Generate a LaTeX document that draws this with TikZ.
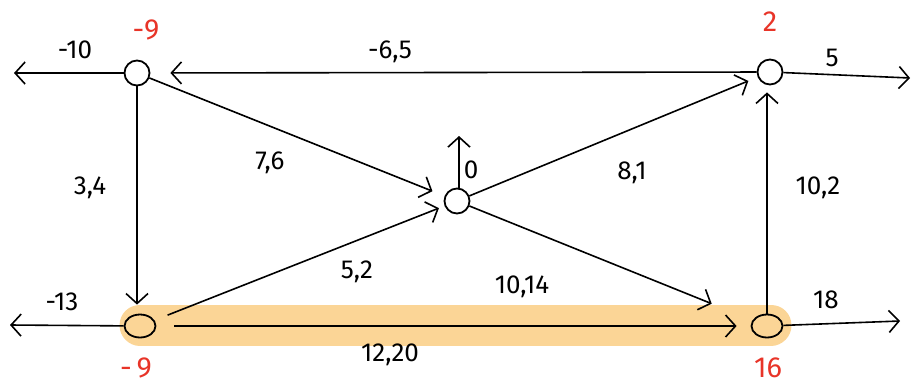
\documentclass[tikz,border=0pt]{standalone}
\usepackage{fontspec}
\setmainfont{Fira Sans}
\usetikzlibrary{arrows.meta,shapes.geometric}
\definecolor{hl}{RGB}{251,213,150}
\definecolor{redlab}{RGB}{232,52,40}
\tikzset{
  vert/.style={circle,draw,line width=1.8pt,minimum size=25pt,inner sep=0pt},
  vertb/.style={ellipse,draw,line width=1.8pt,minimum width=31pt,minimum height=23pt,inner sep=0pt},
  edge/.style={line width=1.6pt,-{Straight Barb[length=10pt,width=22pt,line width=1.6pt]}},
  lab/.style={font=\fontsize{26}{26}\selectfont},
  rlab/.style={font=\fontsize{29}{29}\selectfont,text=redlab,inner sep=0pt}
}
\begin{document}
\begin{tikzpicture}[x=1pt,y=-1pt]
\useasboundingbox (0,0) rectangle (917,386);
\draw[line width=41pt,line cap=round,color=hl] (140,325) -- (771,325);
\node[vert] (A) at (137,73) {};
\node[vert] (B) at (770,72) {};
\node[vert] (C) at (457,201) {};
\node[vertb] (D) at (140,326) {};
\node[vertb] (E) at (767,326) {};
\coordinate (Aout) at (14,73);
\coordinate (Bout) at (910,78);
\coordinate (Cout) at (459,136);
\coordinate (Dout) at (10,325);
\coordinate (Eout) at (900,321);
% edges
\draw[edge,shorten >=20pt] (B) -- (A);
\draw[edge,shorten >=13pt] (A) -- (C);
\draw[edge,shorten >=10pt] (C) -- (B);
\draw[edge,shorten <=14pt,shorten >=6pt] (D) -- (C);
\draw[edge,shorten >=44pt] (C) -- (E);
\draw[edge,shorten <=18pt,shorten >=14pt] (D) -- (E);
\draw[edge,shorten >=9pt] (A.south) -- (A.south |- D.north);
\draw[edge,shorten >=7pt] (E.north) -- (E.north |- B.south);
\draw[edge] (C.north -| Cout) -- (Cout);
\draw[edge] (A) -- (Aout);
\draw[edge] (B) -- (Bout);
\draw[edge] (D) -- (Dout);
\draw[edge] (E) -- (Eout);
% edge labels
\node[lab] (lBA) at (390,52) {-6,5};
\node[lab] (lAC) at (270,163) {7,6};
\node[lab] (lCB) at (632,173) {8,1};
\node[lab] (lDC) at (357,272) {5,2};
\node[lab] (lCE) at (522,287) {10,14};
\node[lab] (lDE) at (390,355) {12,20};
\node[lab] (lAD) at (90,188) {3,4};
\node[lab] (lEB) at (818,188) {10,2};
\node[lab] (lC) at (471,170) {0};
\node[lab] (lA) at (75,50) {-10};
\node[lab] (lB) at (832,58) {5};
\node[lab] (lD) at (62,302) {-13};
\node[lab] (lE) at (826,300) {18};
% red labels
\node[rlab] (Ar) at (146,30) {-9};
\node[rlab] (Br) at (770,22) {2};
\node[rlab] (Dr) at (136,368) {-\,9};
\node[rlab] (Er) at (768,368) {16};
\end{tikzpicture}
\end{document}
